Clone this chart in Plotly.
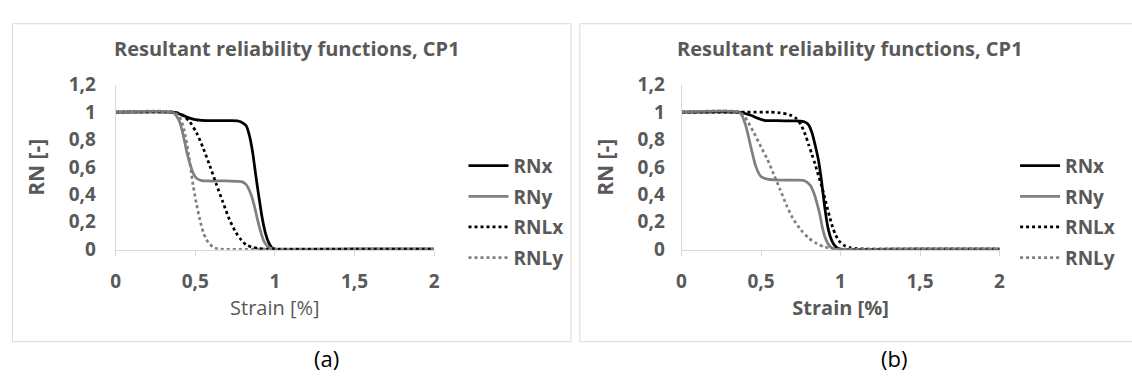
import plotly.graph_objects as go

# ---------------- data ----------------
strain_ticks = [0, 0.5, 1, 1.5, 2]
series_names = ["RNx", "RNy", "RNLx", "RNLy"]

# panel (a)
rnx_a_x = [0, 0.35, 0.38, 0.42, 0.46, 0.50, 0.54, 0.60, 0.70, 0.77, 0.80, 0.82, 0.84, 0.86, 0.88, 0.90, 0.92, 0.94, 0.96, 0.98, 1.0, 1.5, 2.0]
rnx_a_y = [1, 1, 0.995, 0.978, 0.958, 0.945, 0.94, 0.938, 0.937, 0.935, 0.92, 0.90, 0.83, 0.71, 0.54, 0.38, 0.23, 0.12, 0.05, 0.012, 0, 0, 0]

rny_a_x = [0, 0.35, 0.37, 0.40, 0.425, 0.445, 0.466, 0.487, 0.51, 0.54, 0.58, 0.70, 0.79, 0.82, 0.85, 0.87, 0.89, 0.91, 0.93, 0.95, 0.97, 0.99, 1.5, 2.0]
rny_a_y = [1, 1, 0.99, 0.935, 0.83, 0.72, 0.625, 0.555, 0.515, 0.50, 0.497, 0.497, 0.492, 0.47, 0.40, 0.32, 0.22, 0.13, 0.06, 0.025, 0.008, 0, 0, 0]

rnlx_a_x = [0, 0.36, 0.40, 0.43, 0.466, 0.508, 0.549, 0.591, 0.632, 0.673, 0.715, 0.756, 0.79, 0.82, 0.86, 0.90, 0.95, 1.0, 1.5, 2.0]
rnlx_a_y = [1, 1, 0.99, 0.97, 0.928, 0.85, 0.74, 0.61, 0.475, 0.345, 0.215, 0.12, 0.065, 0.03, 0.012, 0.004, 0, 0, 0, 0]

rnly_a_x = [0, 0.36, 0.40, 0.43, 0.46, 0.487, 0.508, 0.529, 0.55, 0.57, 0.592, 0.62, 0.653, 1.0, 1.5, 2.0]
rnly_a_y = [1, 1, 0.97, 0.87, 0.68, 0.464, 0.328, 0.215, 0.124, 0.07, 0.034, 0.01, 0, 0, 0, 0]

# panel (b)
rnx_b_x = [0, 0.36, 0.40, 0.44, 0.48, 0.52, 0.60, 0.70, 0.75, 0.78, 0.80, 0.82, 0.84, 0.86, 0.88, 0.90, 0.92, 0.94, 0.96, 0.98, 1.0, 1.5, 2.0]
rnx_b_y = [1, 1, 0.99, 0.975, 0.955, 0.94, 0.937, 0.936, 0.934, 0.925, 0.905, 0.85, 0.76, 0.655, 0.5, 0.31, 0.16, 0.075, 0.03, 0.008, 0, 0, 0]

rny_b_x = [0, 0.36, 0.38, 0.405, 0.437, 0.468, 0.499, 0.54, 0.58, 0.70, 0.77, 0.81, 0.835, 0.855, 0.87, 0.885, 0.90, 0.92, 0.94, 0.96, 1.5, 2.0]
rny_b_y = [1, 1, 0.975, 0.895, 0.74, 0.6, 0.53, 0.51, 0.505, 0.503, 0.5, 0.465, 0.40, 0.32, 0.25, 0.16, 0.095, 0.04, 0.012, 0, 0, 0]

rnlx_b_x = [0, 0.40, 0.55, 0.62, 0.68, 0.72, 0.75, 0.78, 0.80, 0.82, 0.84, 0.86, 0.886, 0.91, 0.93, 0.95, 0.97, 0.99, 1.02, 1.06, 1.10, 1.15, 1.5, 2.0]
rnlx_b_y = [1, 1, 1, 0.995, 0.98, 0.955, 0.91, 0.83, 0.76, 0.69, 0.62, 0.54, 0.44, 0.33, 0.24, 0.16, 0.1, 0.06, 0.028, 0.01, 0.004, 0, 0, 0]

rnly_b_x = [0, 0.36, 0.40, 0.45, 0.50, 0.54, 0.58, 0.62, 0.66, 0.70, 0.75, 0.80, 0.85, 0.90, 0.95, 1.0, 1.5, 2.0]
rnly_b_y = [1, 1, 0.96, 0.86, 0.745, 0.655, 0.545, 0.435, 0.32, 0.225, 0.14, 0.08, 0.04, 0.015, 0.004, 0, 0, 0]

# ---------------- styling ----------------
W, H = 1132, 385
FONT = "Open Sans"
TXT = "#595959"
AXC = "#d9d9d9"
BLACK = "#000000"
GREY = "#808080"

styles = {
    "RNx": dict(color=BLACK, width=2.75, dash="solid"),
    "RNy": dict(color=GREY, width=2.75, dash="solid"),
    "RNLx": dict(color=BLACK, width=2.75, dash="dot"),
    "RNLy": dict(color=GREY, width=2.75, dash="dot"),
}

def px(x):
    return x / W

def py(y):
    return 1 - y / H

fig = go.Figure()

panels = [
    ("x", "y", "legend", [(rnx_a_x, rnx_a_y), (rny_a_x, rny_a_y), (rnlx_a_x, rnlx_a_y), (rnly_a_x, rnly_a_y)]),
    ("x2", "y2", "legend2", [(rnx_b_x, rnx_b_y), (rny_b_x, rny_b_y), (rnlx_b_x, rnlx_b_y), (rnly_b_x, rnly_b_y)]),
]
for xa, ya, lg, data in panels:
    for name, (xs, ys) in zip(series_names, data):
        fig.add_trace(go.Scatter(
            x=xs, y=ys, mode="lines", name=name, xaxis=xa, yaxis=ya, legend=lg,
            legendgroup=lg + name,
            line=dict(shape="spline", smoothing=0.7, **styles[name]),
            hoverinfo="x+y+name",
        ))

ydom = [py(253.3), py(76.7)]

def xaxis_cfg(dom, bold_title):
    return dict(
        domain=dom, range=[0, 2], tickmode="array", tickvals=strain_ticks,
        showline=True, linecolor=AXC, linewidth=1, ticks="outside", ticklen=5,
        tickcolor=AXC, tickwidth=1, showgrid=False, zeroline=False,
        tickfont=dict(family=FONT, size=19, color=TXT, weight="bold"),
        ticklabelstandoff=9,
        title=dict(text="Strain [%]", standoff=8,
                   font=dict(family=FONT, size=20, color=TXT,
                             weight="bold" if bold_title else "normal")),
        fixedrange=True,
    )

def yaxis_cfg(anchor, standoff):
    return dict(
        domain=ydom, range=[-0.006, 1.2], dtick=0.2, tick0=0, anchor=anchor,
        showline=True, linecolor=AXC, linewidth=1, ticks="", showgrid=False,
        zeroline=False,
        tickfont=dict(family=FONT, size=19, color=TXT, weight="bold"),
        ticklabelstandoff=standoff,
        title=dict(text="RN [-]", standoff=18,
                   font=dict(family=FONT, size=21, color=TXT, weight="bold")),
        fixedrange=True,
    )

legend_common = dict(
    xanchor="left", yanchor="middle", bgcolor="rgba(0,0,0,0)", borderwidth=0,
    font=dict(family=FONT, size=19, color=TXT, weight="bold"),
    tracegroupgap=3, itemwidth=40,
)

fig.update_layout(
    width=W, height=H, margin=dict(l=0, r=0, t=0, b=0),
    paper_bgcolor="white", plot_bgcolor="white",
    separators=", ",
    showlegend=True,
    xaxis=xaxis_cfg([px(111.7), px(433.3)], False),
    yaxis=yaxis_cfg("x", 15),
    xaxis2=xaxis_cfg([px(683.2), px(1004.3)], True),
    yaxis2=yaxis_cfg("x2", 12),
    legend=dict(x=px(463), y=py(212.5), **legend_common),
    legend2=dict(x=px(1020), y=py(212.5), **legend_common),
    shapes=[
        dict(type="rect", xref="paper", yref="paper", x0=px(7.5), x1=px(571.5),
             y0=py(351.5), y1=py(11.5), line=dict(color=AXC, width=1), layer="below"),
        dict(type="rect", xref="paper", yref="paper", x0=px(580.5), x1=px(1150),
             y0=py(351.5), y1=py(11.5), line=dict(color=AXC, width=1), layer="below"),
    ],
    annotations=[
        dict(text="Resultant reliability functions, CP1", xref="paper", yref="paper",
             x=px(285), y=py(38), showarrow=False, xanchor="center", yanchor="middle",
             font=dict(family=FONT, size=20, color=TXT, weight="bold")),
        dict(text="Resultant reliability functions, CP1", xref="paper", yref="paper",
             x=px(853), y=py(38), showarrow=False, xanchor="center", yanchor="middle",
             font=dict(family=FONT, size=20, color=TXT, weight="bold")),
        dict(text="(a)", xref="paper", yref="paper", x=px(325), y=py(369),
             showarrow=False, xanchor="center", yanchor="middle",
             font=dict(family=FONT, size=22, color="#000000")),
        dict(text="(b)", xref="paper", yref="paper", x=px(898), y=py(369),
             showarrow=False, xanchor="center", yanchor="middle",
             font=dict(family=FONT, size=22, color="#000000")),
    ],
)

# remove the default page margin so the figure sits at the window origin
fig.write_html(
    "out.html",
    config={"displayModeBar": False},
    post_script="document.body.style.margin='0';document.body.style.overflow='hidden';"
                "document.documentElement.style.overflow='hidden';",
)
